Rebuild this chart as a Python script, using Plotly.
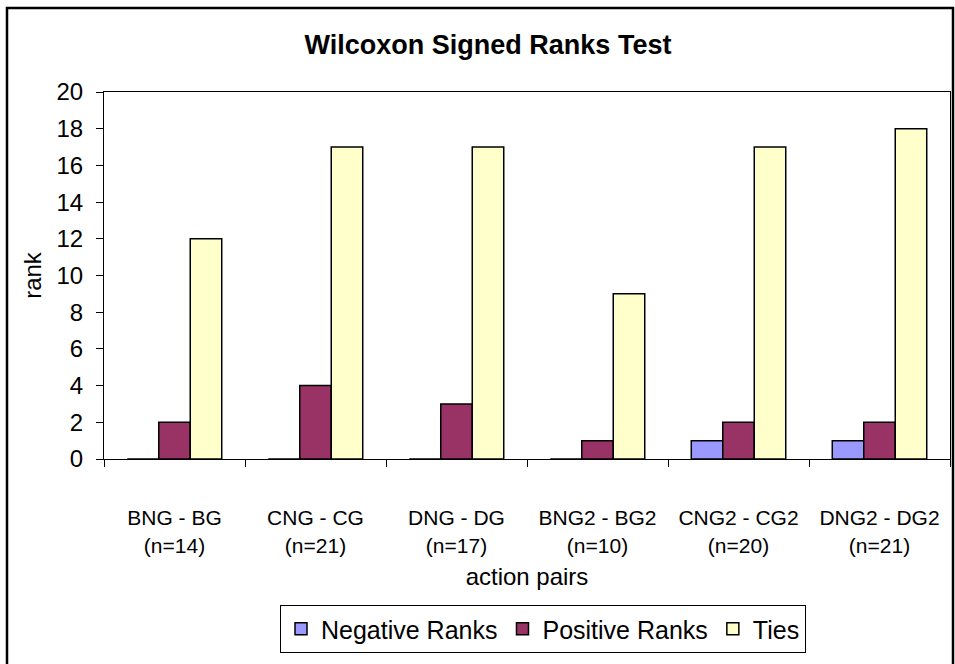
import plotly.graph_objects as go

# action pairs on the x axis
pairs = ['BNG - BG<br>(n=14)', 'CNG - CG<br>(n=21)', 'DNG - DG<br>(n=17)',
         'BNG2 - BG2<br>(n=10)', 'CNG2 - CG2<br>(n=20)', 'DNG2 - DG2<br>(n=21)']

# rank counts per series
negative_ranks = [0, 0, 0, 0, 1, 1]
positive_ranks = [2, 4, 3, 1, 2, 2]
ties = [12, 17, 17, 9, 17, 18]

font = 'Liberation Sans, Arial, sans-serif'

fig = go.Figure()
fig.add_trace(go.Bar(x=pairs, y=negative_ranks, name='Negative Ranks',
                     marker=dict(color='#9999FF', line=dict(color='black', width=1.5))))
fig.add_trace(go.Bar(x=pairs, y=positive_ranks, name='Positive Ranks',
                     marker=dict(color='#993366', line=dict(color='black', width=1.5))))
fig.add_trace(go.Bar(x=pairs, y=ties, name='Ties',
                     marker=dict(color='#FFFFCC', line=dict(color='black', width=1.5))))

# plot area in pixels: x 104..950, y 92..459
W, H = 955, 664
L, R, T, B = 104, 5, 92, 205
pw, ph = W - L - R, H - T - B

def px_x(v):
    return (v - L) / pw

def px_y(v):
    return (H - B - v) / ph

fig.update_layout(
    width=W, height=H,
    margin=dict(l=L, r=R, t=T, b=B),
    plot_bgcolor='white', paper_bgcolor='white',
    barmode='group', bargap=0.33, bargroupgap=0,
    font=dict(family=font, color='black', size=22),
    title=dict(text='<b>Wilcoxon Signed Ranks Test</b>', xref='container', x=488 / W,
               xanchor='center', y=1 - 45 / H, yanchor='middle',
               font=dict(size=27, family=font)),
    showlegend=True,
    legend=dict(orientation='h', x=px_x(543), xanchor='center', y=px_y(605), yanchor='top',
                bordercolor='black', borderwidth=1, bgcolor='white',
                font=dict(size=25, family=font), itemwidth=30, traceorder='normal'),
    shapes=[dict(type='rect', xref='paper', yref='paper',
                 x0=px_x(7), x1=px_x(953), y0=px_y(700), y1=px_y(8),
                 line=dict(color='black', width=2.5), layer='below')],
)

fig.update_xaxes(
    showline=True, linecolor='black', linewidth=1, mirror=True,
    ticks='outside', ticklen=7, tickcolor='black', tickson='boundaries',
    ticklabelstandoff=40, tickfont=dict(size=21),
    title=dict(text='action pairs', font=dict(size=24), standoff=12),
)
fig.update_yaxes(
    range=[0, 20], dtick=2, showgrid=False, zeroline=False,
    showline=True, linecolor='black', linewidth=1, mirror=True,
    ticks='outside', ticklen=7, tickcolor='black', tickfont=dict(size=24),
    ticklabelstandoff=8,
    title=dict(text='rank', font=dict(size=24), standoff=8),
)

# remove the default page margin so the figure sits at the window origin
fig.write_html('out.html', config={'displayModeBar': False},
               post_script="document.body.style.margin='0';")
